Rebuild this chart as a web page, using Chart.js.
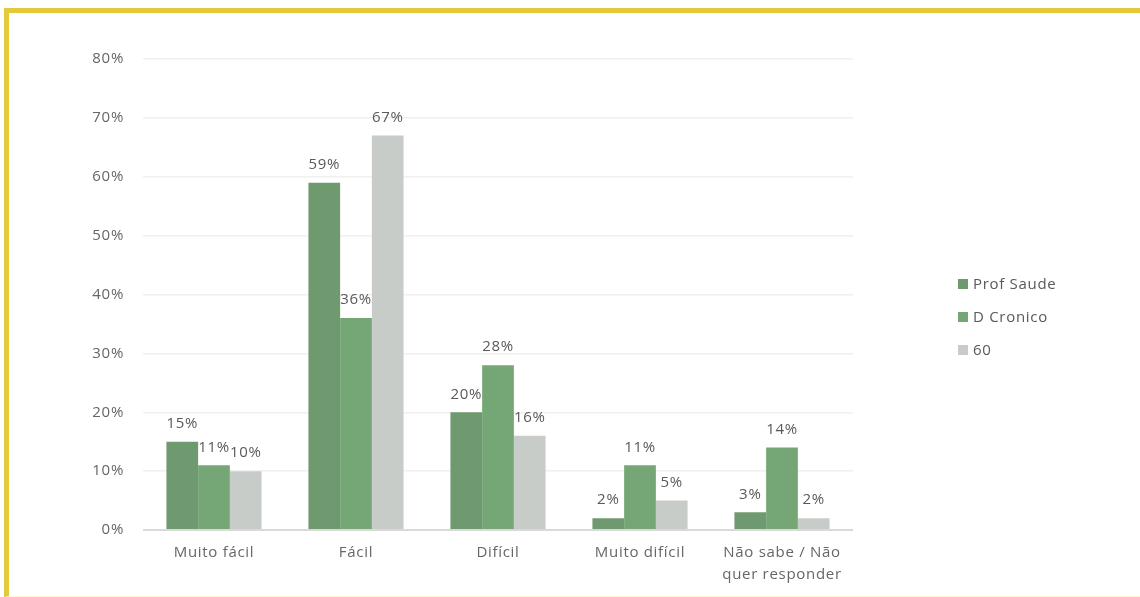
<!DOCTYPE html>
<html>
<head>
<meta charset="utf-8">
<script src="https://cdn.jsdelivr.net/npm/chart.js@4"></script>
<style>
  html, body { margin: 0; padding: 0; background: #fff; }
  #wrap { position: relative; width: 1140px; height: 597px; overflow: hidden; }
  #frame {
    position: absolute; left: 4px; top: 8px; right: -10px; bottom: 0;
    border-top: 5px solid #e3c93b; border-left: 5px solid #e3c93b;
    border-bottom: 1px solid #fbf5d6;
  }
  #chart { position: absolute; left: 0; top: 0; }
  #legend {
    position: absolute; left: 958px; top: 273px;
    font-family: "Open Sans", sans-serif; font-size: 15px; letter-spacing: 0.7px; color: #595959;
  }
  .item { height: 33px; line-height: 21px; display: flex; align-items: flex-start; }
  .box { width: 10px; height: 10px; margin: 6px 5px 0 0; }
</style>
</head>
<body>
<div id="wrap">
  <div id="frame"></div>
  <canvas id="chart" width="1140" height="597"></canvas>
  <div id="legend"></div>
</div>
<script>
  const categories = ['Muito fácil', 'Fácil', 'Difícil', 'Muito difícil', ['Não sabe / Não', 'quer responder']];
  const seriesNames = ['Prof Saude', 'D Cronico', '60'];
  const profSaude = [15, 59, 20, 2, 3];
  const dCronico = [11, 36, 28, 11, 14];
  const sessenta = [10, 67, 16, 5, 2];
  const yTicks = [0, 10, 20, 30, 40, 50, 60, 70, 80];
  const colors = ['#6f9a6f', '#74a775', '#c8ccc9'];

  const textColor = '#595959';
  const fontFamily = '"Open Sans", sans-serif';

  // wider letter spacing like the original
  const spacing = {
    id: 'spacing',
    beforeDraw(chart) { chart.ctx.letterSpacing = '0.7px'; }
  };

  // labels above each bar
  const barLabels = {
    id: 'barLabels',
    afterDatasetsDraw(chart) {
      const ctx = chart.ctx;
      ctx.save();
      ctx.font = '15px ' + fontFamily;
      ctx.fillStyle = textColor;
      ctx.textAlign = 'center';
      ctx.textBaseline = 'middle';
      chart.data.datasets.forEach((ds, i) => {
        chart.getDatasetMeta(i).data.forEach((bar, j) => {
          ctx.fillText(ds.data[j] + '%', bar.x, bar.y - 18);
        });
      });
      ctx.restore();
    }
  };

  new Chart(document.getElementById('chart'), {
    type: 'bar',
    data: {
      labels: categories,
      datasets: [profSaude, dCronico, sessenta].map((d, i) => ({
        label: seriesNames[i],
        data: d,
        backgroundColor: colors[i],
        borderWidth: 0,
        categoryPercentage: 0.67,
        barPercentage: 1
      }))
    },
    options: {
      responsive: false,
      animation: false,
      layout: { padding: { left: 0, right: 287, top: 59, bottom: 0 } },
      plugins: { legend: { display: false }, tooltip: { enabled: false } },
      scales: {
        x: {
          grid: { display: false, drawTicks: false },
          border: { display: false },
          ticks: {
            color: '#666',
            padding: 12,
            maxRotation: 0,
            autoSkip: false,
            font: { family: fontFamily, size: 15, lineHeight: 1.45 }
          },
          afterFit(scale) { scale.height = 67; }
        },
        y: {
          min: 0,
          max: 80,
          afterBuildTicks(scale) { scale.ticks = yTicks.map(v => ({ value: v })); },
          grid: {
            drawTicks: false,
            color: c => c.tick && c.tick.value === 0 ? '#d9d9d9' : '#f0f0f0',
            lineWidth: c => c.tick && c.tick.value === 0 ? 2 : 1.5
          },
          border: { display: false },
          ticks: {
            color: '#666',
            padding: 19,
            font: { family: fontFamily, size: 15 },
            callback: v => v + '%'
          },
          afterFit(scale) { scale.width = 143; }
        }
      }
    },
    plugins: [spacing, barLabels]
  });

  const legend = document.getElementById('legend');
  seriesNames.forEach((name, i) => {
    const item = document.createElement('div');
    item.className = 'item';
    item.innerHTML = '<div class="box" style="background:' + colors[i] + '"></div><span>' + name + '</span>';
    legend.appendChild(item);
  });
</script>
</body>
</html>
